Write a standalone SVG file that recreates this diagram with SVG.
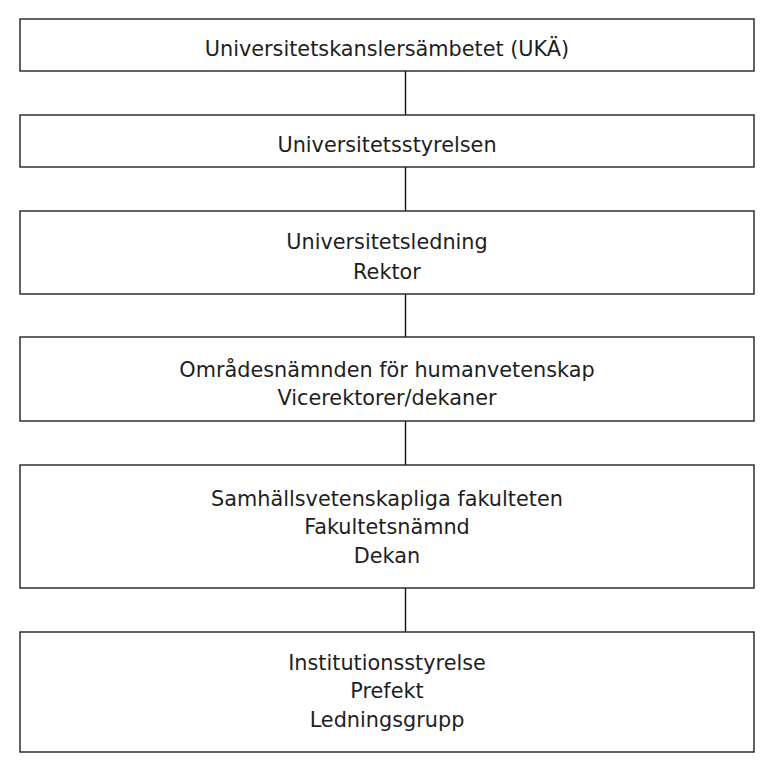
<svg xmlns="http://www.w3.org/2000/svg" width="768" height="768" viewBox="0 0 768 768">
<style>
.box{fill:#ffffff;stroke:#222222;stroke-width:1.4}
.conn{stroke:#111111;stroke-width:1.4;fill:none}
.lbl{font-family:"DejaVu Sans",Verdana,sans-serif;font-size:20.8px;fill:#1e1e1e;text-anchor:middle}
</style>
<rect x="0" y="0" width="768" height="768" fill="#ffffff"/>
<g id="connectors">
<line class="conn" x1="405.5" y1="71" x2="405.5" y2="115"/>
<line class="conn" x1="405.5" y1="167" x2="405.5" y2="211"/>
<line class="conn" x1="405.5" y1="294" x2="405.5" y2="337"/>
<line class="conn" x1="405.5" y1="421" x2="405.5" y2="465"/>
<line class="conn" x1="405.5" y1="588" x2="405.5" y2="632"/>
</g>
<g id="node-uka">
<rect class="box" x="20" y="19" width="734" height="52"/>
<text class="lbl" x="387" y="56">Universitetskanslersämbetet (UKÄ)</text>
</g>
<g id="node-styrelsen">
<rect class="box" x="20" y="115" width="734" height="52"/>
<text class="lbl" x="387" y="152.3">Universitetsstyrelsen</text>
</g>
<g id="node-ledning">
<rect class="box" x="20" y="211" width="734" height="83"/>
<text class="lbl" x="387" y="249">Universitetsledning</text>
<text class="lbl" x="387" y="279">Rektor</text>
</g>
<g id="node-omradesnamnden">
<rect class="box" x="20" y="337" width="734" height="84"/>
<text class="lbl" x="387" y="376.7">Områdesnämnden för humanvetenskap</text>
<text class="lbl" x="387" y="405">Vicerektorer/dekaner</text>
</g>
<g id="node-fakulteten">
<rect class="box" x="20" y="465" width="734" height="123"/>
<text class="lbl" x="387" y="506">Samhällsvetenskapliga fakulteten</text>
<text class="lbl" x="387" y="534.3">Fakultetsnämnd</text>
<text class="lbl" x="387" y="562.7">Dekan</text>
</g>
<g id="node-institution">
<rect class="box" x="20" y="632" width="734" height="120"/>
<text class="lbl" x="387" y="669.5">Institutionsstyrelse</text>
<text class="lbl" x="387" y="698">Prefekt</text>
<text class="lbl" x="387" y="726.5">Ledningsgrupp</text>
</g>
</svg>
